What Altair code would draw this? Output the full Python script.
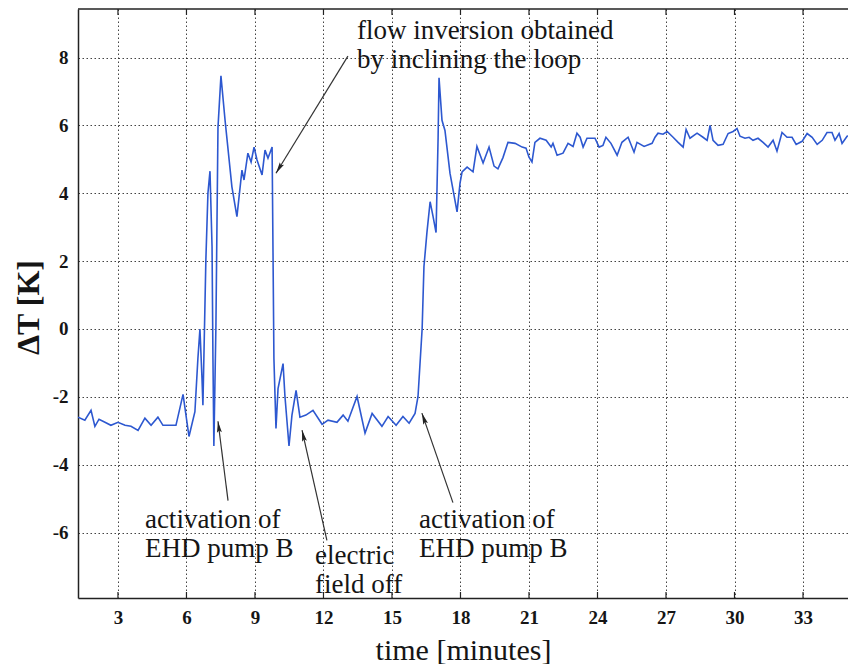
import math
import altair as alt
import pandas as pd

# ---- data ----
time_min = [1.25, 1.55, 1.82, 1.99, 2.17, 2.43, 2.69, 3.00, 3.31, 3.57, 3.88, 4.18, 4.45, 4.75, 4.97,
            5.54, 5.85, 6.11, 6.37, 6.50, 6.59, 6.68, 6.72, 6.85, 6.94, 7.03, 7.12, 7.16, 7.20, 7.29,
            7.38, 7.51, 7.69, 7.99, 8.21, 8.43, 8.52, 8.69, 8.83, 8.96, 9.09, 9.31, 9.44, 9.57, 9.75,
            9.79, 9.83, 9.92, 10.01, 10.23, 10.31, 10.49, 10.62, 10.80, 10.97, 11.23, 11.54, 11.94, 12.20,
            12.59, 12.86, 13.07, 13.47, 13.82, 14.13, 14.56, 14.83, 15.18, 15.48, 15.75, 16.01, 16.14,
            16.32, 16.40, 16.53, 16.67, 16.80, 16.93, 17.02, 17.06, 17.19, 17.32, 17.54, 17.85, 17.98,
            18.07, 18.29, 18.55, 18.72, 18.99, 19.25, 19.47, 19.64, 19.86, 20.08, 20.39, 20.70, 20.87,
            21.00, 21.13, 21.26, 21.48, 21.75, 21.97, 22.05, 22.23, 22.49, 22.71, 22.93, 23.10, 23.24,
            23.37, 23.54, 23.89, 24.07, 24.24, 24.37, 24.59, 24.86, 25.07, 25.34, 25.60, 25.73, 26.04,
            26.39, 26.52, 26.65, 26.87, 27.05, 27.31, 27.53, 27.75, 27.88, 28.05, 28.36, 28.62, 28.80,
            28.93, 29.06, 29.28, 29.50, 29.72, 29.94, 30.11, 30.24, 30.46, 30.64, 30.81, 31.03, 31.25,
            31.47, 31.69, 31.86, 32.08, 32.30, 32.52, 32.70, 32.96, 33.18, 33.40, 33.62, 33.84, 34.05,
            34.27, 34.40, 34.58, 34.71, 34.93, 35.15, 35.37]
delta_T = [-2.60, -2.69, -2.40, -2.87, -2.66, -2.75, -2.84, -2.75, -2.84, -2.87, -2.99, -2.63, -2.84, -2.60, -2.84,
           -2.84, -1.93, -3.17, -2.44, -0.88, 0.00, -1.46, -2.25, 2.05, 4.00, 4.65, 2.43, -0.88, -3.45, 0.10,
           5.94, 7.46, 6.15, 4.19, 3.31, 4.68, 4.39, 5.18, 4.92, 5.36, 4.98, 4.54, 5.27, 5.03, 5.36,
           2.25, -0.88, -2.93, -1.76, -1.02, -1.96, -3.45, -2.54, -1.81, -2.60, -2.54, -2.40, -2.81, -2.69,
           -2.75, -2.54, -2.72, -1.99, -3.07, -2.49, -2.87, -2.58, -2.84, -2.58, -2.78, -2.49, -1.99,
           0.00, 1.84, 2.84, 3.75, 3.31, 2.84, 5.65, 7.40, 6.15, 5.85, 4.59, 3.45, 4.30,
           4.63, 4.77, 4.63, 5.38, 4.89, 5.36, 4.80, 4.72, 5.05, 5.50, 5.47, 5.36, 5.33,
           5.06, 4.92, 5.50, 5.62, 5.56, 5.36, 5.47, 5.12, 5.18, 5.47, 5.38, 5.77, 5.65,
           5.36, 5.62, 5.62, 5.36, 5.41, 5.65, 5.47, 5.12, 5.50, 5.65, 5.21, 5.50, 5.38,
           5.47, 5.65, 5.77, 5.74, 5.82, 5.65, 5.50, 5.36, 5.88, 5.62, 5.77, 5.65, 5.56,
           6.00, 5.56, 5.41, 5.44, 5.76, 5.82, 5.91, 5.68, 5.62, 5.65, 5.56, 5.62, 5.50,
           5.36, 5.56, 5.24, 5.79, 5.65, 5.65, 5.44, 5.53, 5.76, 5.65, 5.44, 5.56, 5.79,
           5.79, 5.56, 5.76, 5.47, 5.68, 5.71, 5.76]

x_ticks = [3, 6, 9, 12, 15, 18, 21, 24, 27, 30, 33]
y_ticks = [-6, -4, -2, 0, 2, 4, 6, 8]

note_text = ["flow inversion obtained\nby inclining the loop",
             "activation of\nEHD pump B",
             "electric\nfield off",
             "activation of\nEHD pump B"]
note_t = [13.47, 4.18, 11.63, 16.18]
note_T = [8.56, -5.88, -6.93, -5.88]

arrow_tail_t = [13.07, 7.82, 12.15, 17.67]
arrow_tail_T = [8.04, -5.06, -6.23, -5.12]
arrow_tip_t = [9.92, 7.38, 11.06, 16.31]
arrow_tip_T = [4.59, -2.72, -2.98, -2.48]

# ---- layout ----
X_DOMAIN = [1.25, 34.97]
Y_DOMAIN = [-7.93, 9.43]
W, H = 770, 589
SERIF = "Liberation Serif"
INK = "#151515"

xs = alt.Scale(domain=X_DOMAIN, nice=False, zero=False)
ys = alt.Scale(domain=Y_DOMAIN, nice=False, zero=False)

# arrow head orientation (screen space)
ppx = W / (X_DOMAIN[1] - X_DOMAIN[0])
ppy = H / (Y_DOMAIN[1] - Y_DOMAIN[0])
HEAD_SIZE = 170
r = math.sqrt(HEAD_SIZE) / 2
head_t, head_T, head_a = [], [], []
for t0, T0, t1, T1 in zip(arrow_tail_t, arrow_tail_T, arrow_tip_t, arrow_tip_T):
    dx = (t1 - t0) * ppx
    dy = -(T1 - T0) * ppy
    L = math.hypot(dx, dy)
    ux, uy = dx / L, dy / L
    head_a.append(math.degrees(math.atan2(ux, -uy)) % 360)
    head_t.append(t1 - ux * r / ppx)
    head_T.append(T1 + uy * r / ppy)

df = pd.DataFrame({"t": time_min, "dT": delta_T})
notes = pd.DataFrame({"t": note_t, "T": note_T, "txt": note_text})
arrows = pd.DataFrame({"t0": arrow_tail_t, "T0": arrow_tail_T, "t1": arrow_tip_t, "T1": arrow_tip_T})
heads = pd.DataFrame({"t": head_t, "T": head_T, "a": head_a})
ticks = pd.DataFrame({"t": x_ticks})
one = pd.DataFrame({"k": [0]})

line = alt.Chart(df).mark_line(color="#2d58d0", strokeWidth=1.6, clip=True).encode(
    x=alt.X("t:Q", scale=xs, axis=alt.Axis(
        values=x_ticks, title="time [minutes]", grid=True, tickSize=0,
        labelPadding=10, titleBaseline="alphabetic", titleY=61)),
    y=alt.Y("dT:Q", scale=ys, axis=alt.Axis(
        values=y_ticks, title="ΔT [K]", grid=True, tickSize=0,
        labelExpr="'' + datum.value",
        labelPadding=10, titleX=-50, titleY=298, titleBaseline="middle",
        titleFontWeight="bold", titleFontSize=32)),
)

shafts = alt.Chart(arrows).mark_rule(color="#333333", strokeWidth=1.2).encode(
    x=alt.X("t0:Q", scale=xs), y=alt.Y("T0:Q", scale=ys), x2="t1:Q", y2="T1:Q")

heads_m = alt.Chart(heads).mark_point(
    shape="M0,-1L0.38,0.75L0,0.45L-0.38,0.75Z", filled=True, color="#222222",
    size=HEAD_SIZE, opacity=1).encode(
    x=alt.X("t:Q", scale=xs), y=alt.Y("T:Q", scale=ys), angle=alt.Angle("a:Q", scale=None))

texts = alt.Chart(notes).mark_text(
    font=SERIF, fontSize=27, color=INK, align="left", baseline="alphabetic",
    lineBreak="\n", lineHeight=29).encode(
    x=alt.X("t:Q", scale=xs), y=alt.Y("T:Q", scale=ys), text="txt:N")

tick_bottom = alt.Chart(ticks).mark_rule(color="#222222", strokeWidth=1.2).encode(
    x=alt.X("t:Q", scale=xs), y=alt.value(H - 6), y2=alt.value(H))
tick_top = alt.Chart(ticks).mark_rule(color="#222222", strokeWidth=1.2).encode(
    x=alt.X("t:Q", scale=xs), y=alt.value(0), y2=alt.value(6))
top_border = alt.Chart(one).mark_rule(color="#222222", strokeWidth=1.5).encode(
    x=alt.value(0), x2=alt.value(W), y=alt.value(0))

chart = alt.layer(line, shafts, heads_m, texts, tick_bottom, tick_top, top_border).properties(
    width=W, height=H,
    autosize=alt.AutoSizeParams(type="none"),
    padding={"left": 70, "top": 1, "right": 0, "bottom": 66},
    background="white",
).configure_view(strokeWidth=0).configure_axis(
    domainColor="#222222", domainWidth=1.5,
    gridColor="#222222", gridDash=[1.5, 2.5], gridWidth=1, gridOpacity=0.85,
    labelFont=SERIF, labelFontSize=19, labelFontWeight="bold", labelColor=INK,
    titleFont=SERIF, titleFontSize=30, titleFontWeight="normal", titleColor=INK,
)

chart.save("out.html", embed_options={"renderer": "svg", "actions": False})
